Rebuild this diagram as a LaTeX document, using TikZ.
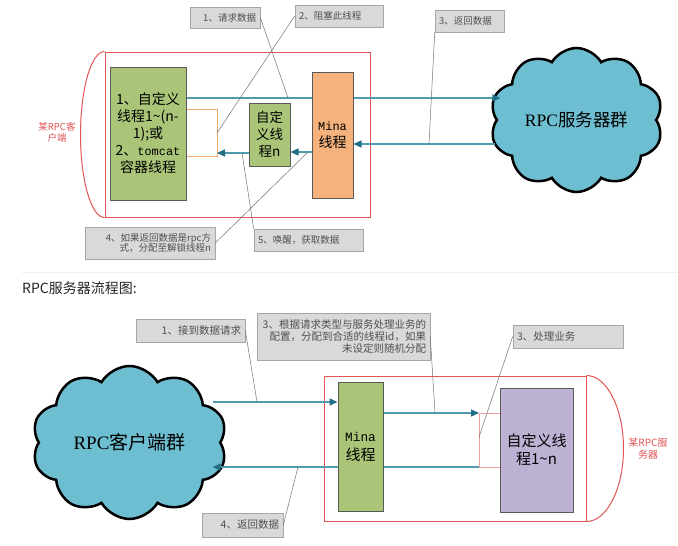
\documentclass[tikz,border=0pt]{standalone}
\usepackage{fontspec}
\setmainfont{Noto Sans CJK SC}
\setmonofont{Liberation Mono}[Scale=0.85]
\newfontfamily\lserif{Liberation Serif}
\usepackage{xcolor}
\usetikzlibrary{arrows.meta}
\usetikzlibrary{calc}
\usetikzlibrary{shapes.symbols}

\definecolor{thrgreen}{RGB}{170,196,120}
\definecolor{minaorange}{RGB}{246,178,124}
\definecolor{thrpurple}{RGB}{190,178,212}
\definecolor{cloudblue}{RGB}{110,190,210}
\definecolor{flowteal}{RGB}{80,155,176}
\definecolor{tipteal}{RGB}{35,110,135}
\definecolor{framered}{RGB}{225,85,85}
\definecolor{notegray}{RGB}{217,217,217}
\definecolor{notetext}{RGB}{80,80,80}
\definecolor{pinkline}{RGB}{240,160,160}
\definecolor{bracketorange}{RGB}{245,170,110}

\begin{document}
\begin{tikzpicture}[x=1pt,y=-1pt,
  thread/.style={draw=black!65,line width=1pt,inner sep=0pt,align=center,font=\fontsize{14}{17}\selectfont},
  hostframe/.style={draw=framered,line width=1pt},
  hostlabel/.style={text=framered,align=center,inner sep=0pt,font=\fontsize{9.5}{11}\selectfont},
  flowline/.style={draw=flowteal,line width=1.3pt},
  flow/.style={flowline,-{Triangle[length=8pt,width=7pt,color=tipteal]}},
  lead/.style={draw=black!55,line width=0.5pt},
  note/.style={draw=black!35,fill=notegray,text=notetext,line width=0.6pt,inner xsep=4pt,inner ysep=0pt,font=\fontsize{9.5}{10.5}\selectfont},
  bignote/.style={note,font=\fontsize{10.5}{12}\selectfont},
  rpccloud/.style={cloud,cloud puffs=10,cloud puff arc=120,cloud ignores aspect,draw=black,line width=2.5pt,fill=cloudblue,inner sep=0pt,font=\fontsize{17.5}{20}\selectfont}]
\useasboundingbox[fill=white] (0,0) rectangle (678,546);

% RPC client
\node[hostframe,minimum width=265pt,minimum height=165pt] (cliframe) at (237.5,134.5) {};
\draw[hostframe] (cliframe.north west) .. controls +(-13.3,0) and +(0,-45.6) .. ([xshift=-24pt]cliframe.west) .. controls +(0,45.6) and +(-13.3,0) .. (cliframe.south west);
\node[hostlabel] (clilabel) at (57,132.5) {某RPC客\\户端};
\node[thread,fill=thrgreen,minimum width=76pt,minimum height=133pt] (thrA) at (148,133.5) {1、自定义\\线程1\textasciitilde(n-\\1);或\\2、{\ttfamily tomcat}\\容器线程};
\node[thread,fill=thrgreen,minimum width=41pt,minimum height=63pt,font=\fontsize{13.5}{17}\selectfont] (thrN) at (269.5,134.5) {自定\\义线\\程n};
\node[thread,fill=minaorange,minimum width=41pt,minimum height=126pt] (minaC) at (332.5,135) {{\ttfamily Mina}\\线程};
\node[rpccloud,minimum width=173pt,minimum height=144pt] (srvcloud) at (576.5,120) {{\lserif RPC}服务器群};

\coordinate (brkA) at (217,153);
\draw[draw=bracketorange,line width=1pt] (thrA.east |- 0,109) -| (217,156) -- (thrA.east |- 0,156);
\draw[flowline] (thrA.east |- 0,98) -- (minaC.west |- 0,98);
\draw[flow] (minaC.east |- 0,98) -- ([xshift=5pt]srvcloud.west |- 0,98);
\draw[flow] (srvcloud.west |- 0,144) -- (minaC.east |- 0,144);
\draw[flow] (minaC.west |- 0,152) -- (thrN.east |- 0,152);
\draw[flow] (thrN.west |- brkA) -- (brkA);

\node[note,text width=62pt,align=right,minimum height=21pt] (c1) at (225,17.5) {1、请求数据};
\node[note,text width=80pt,align=left,minimum height=22pt] (c2) at (339,16) {2、阻塞此线程};
\node[note,text width=61pt,align=left,minimum height=22pt] (c3) at (469.5,21) {3、返回数据};
\node[note,text width=122pt,align=right,minimum height=32pt] (c4) at (150,243) {4、如果返回数据是rpc方\\式，分配至解锁线程n};
\node[note,text width=101pt,align=left,minimum height=22pt] (c5) at (308.5,240) {5、唤醒，获取数据};

\coordinate (pReq) at (288,98);
\coordinate (pBlk) at (217,133);
\coordinate (pRet) at (429,144);
\coordinate (pWake) at (308,152);
\coordinate (pGet) at (242,153);
\draw[lead] (c1.east) -- (pReq);
\draw[lead] (c2.west) -- (pBlk);
\draw[lead] (c3.south west) -- (pRet);
\draw[lead] (c4.east) -- (pWake);
\draw[lead] (pGet) -- (c5.north west);

\draw[black!6,line width=1pt] (22,272) -- (678,272);
\node[anchor=west,inner sep=0pt,text=black!85,font=\fontsize{14}{16}\selectfont] (title) at (22,288) {RPC服务器流程图:};

% RPC server
\node[hostframe,minimum width=262pt,minimum height=145pt] (srvframe) at (455,448.5) {};
\draw[hostframe] (srvframe.north east) .. controls +(20.4,0) and +(0,-40) .. ([xshift=37pt]srvframe.east) .. controls +(0,40) and +(20.4,0) .. (srvframe.south east);
\node[hostlabel,font=\fontsize{10}{12}\selectfont] (srvlabel) at (648,449) {某RPC服\\务器};
\node[thread,fill=thrgreen,minimum width=45pt,minimum height=129pt,font=\fontsize{15}{19}\selectfont] (minaS) at (360.5,446.5) {{\ttfamily Mina}\\线程};
\node[thread,fill=thrpurple,minimum width=73pt,minimum height=124pt,font=\fontsize{15}{18}\selectfont] (thrS) at (536.5,450) {自定义线\\程1\textasciitilde n};
\node[rpccloud,minimum width=195pt,minimum height=153pt,font=\fontsize{19}{22}\selectfont] (clicloud) at (129.5,442.5) {{\lserif RPC}客户端群};

\coordinate (brkS) at (479,413);
\coordinate (brkR) at (479,467);
\draw[draw=pinkline,line width=1pt] (thrS.west |- brkS) -- (brkS) -- (brkR) -- (thrS.west |- brkR);
\draw[flow] ([xshift=-9pt]clicloud.east |- 0,402) -- (minaS.west |- 0,402);
\draw[flow] (minaS.east |- brkS) -- (brkS);
\draw[flowline] (brkR) -- (minaS.east |- brkR);
\draw[flow] (minaS.west |- brkR) -- ([xshift=-9pt]clicloud.east |- brkR);

\node[bignote,text width=101pt,align=right,minimum height=23pt] (b1) at (190.5,330.5) {1、接到数据请求};
\node[bignote,text width=165pt,align=right,minimum height=47pt] (b3) at (343.5,336.5) {3、根据请求类型与服务处理业务的\\配置，分配到合适的线程id，如果\\未设定则随机分配};
\node[bignote,text width=102pt,align=left,minimum height=23pt] (b3w) at (568,336.5) {3、处理业务};
\node[bignote,text width=73pt,align=right,minimum height=24pt] (b4) at (242.5,525) {4、返回数据};

\coordinate (pRcv) at (257,402);
\coordinate (pAsg) at (435,413);
\coordinate (pWork) at (479,437);
\coordinate (pBack) at (298,467);
\draw[lead] (b1.east) -- (pRcv);
\draw[lead] (b3.east) -- (pAsg);
\draw[lead] (b3w.west) -- (pWork);
\draw[lead] (b4.east) -- (pBack);
\end{tikzpicture}
\end{document}
